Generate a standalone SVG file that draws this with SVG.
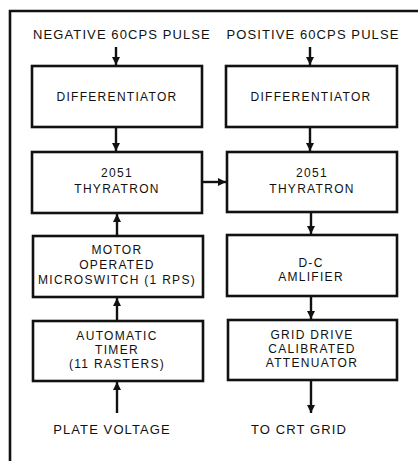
<svg xmlns="http://www.w3.org/2000/svg" width="418" height="461" viewBox="0 0 418 461">
<defs>
<marker id="ah" viewBox="0 0 10 10" refX="10" refY="5" markerWidth="8" markerHeight="8" markerUnits="userSpaceOnUse" orient="auto">
<path d="M0,0 L10,5 L0,10 z" fill="#111"/>
</marker>
<style>
.box{fill:#fff;stroke:#111;stroke-width:2.6}
.t{font-family:"Liberation Sans",Arial,sans-serif;font-size:12px;fill:#111;text-anchor:middle;letter-spacing:1.3px}
.L{font-size:13px;letter-spacing:1.1px}
.c{stroke:#111;stroke-width:2.4;fill:none;marker-end:url(#ah)}
.frame{stroke:#111;stroke-width:2.6;fill:none}
</style>
</defs>
<rect width="418" height="461" fill="#fff"/>
<path class="frame" d="M10,461 V11 H418"/>
<g id="labels">
<text class="t L" x="122" y="39">NEGATIVE 60CPS PULSE</text>
<text class="t L" x="313" y="39">POSITIVE 60CPS PULSE</text>
<text class="t L" x="112" y="434">PLATE VOLTAGE</text>
<text class="t L" x="299" y="434">TO CRT GRID</text>
</g>
<g id="diff1"><rect class="box" x="32" y="66" width="170" height="61"/><text class="t" x="117" y="101">DIFFERENTIATOR</text></g>
<g id="diff2"><rect class="box" x="226" y="66" width="171" height="61"/><text class="t" x="311" y="101">DIFFERENTIATOR</text></g>
<g id="thy1"><rect class="box" x="32" y="152" width="170" height="61"/><text class="t" x="117" y="177">2051</text><text class="t" x="117" y="193">THYRATRON</text></g>
<g id="thy2"><rect class="box" x="227" y="152" width="170" height="60"/><text class="t" x="312" y="177">2051</text><text class="t" x="312" y="193">THYRATRON</text></g>
<g id="motor"><rect class="box" x="33" y="236" width="170" height="61"/><text class="t" x="117" y="254">MOTOR</text><text class="t" x="117" y="269">OPERATED</text><text class="t" x="117" y="284">MICROSWITCH (1 RPS)</text></g>
<g id="dc"><rect class="box" x="227" y="235" width="170" height="61"/><text class="t" x="311" y="267">D-C</text><text class="t" x="311" y="281">AMLIFIER</text></g>
<g id="timer"><rect class="box" x="33" y="321" width="170" height="60"/><text class="t" x="117" y="340">AUTOMATIC</text><text class="t" x="117" y="354">TIMER</text><text class="t" x="117" y="368">(11 RASTERS)</text></g>
<g id="grid"><rect class="box" x="228" y="320" width="169" height="60"/><text class="t" x="312" y="339">GRID DRIVE</text><text class="t" x="312" y="353">CALIBRATED</text><text class="t" x="312" y="367">ATTENUATOR</text></g>
<g id="connectors">
<line class="c" x1="116" y1="47" x2="116" y2="65"/>
<line class="c" x1="310" y1="47" x2="310" y2="65"/>
<line class="c" x1="116" y1="128" x2="116" y2="151"/>
<line class="c" x1="310" y1="128" x2="310" y2="151"/>
<line class="c" x1="203" y1="182" x2="226" y2="182"/>
<line class="c" x1="117" y1="236" x2="117" y2="214"/>
<line class="c" x1="311" y1="213" x2="311" y2="234"/>
<line class="c" x1="117" y1="321" x2="117" y2="298"/>
<line class="c" x1="311" y1="297" x2="311" y2="319"/>
<line class="c" x1="117" y1="413" x2="117" y2="382"/>
<line class="c" x1="311" y1="381" x2="311" y2="413"/>
</g>
</svg>
